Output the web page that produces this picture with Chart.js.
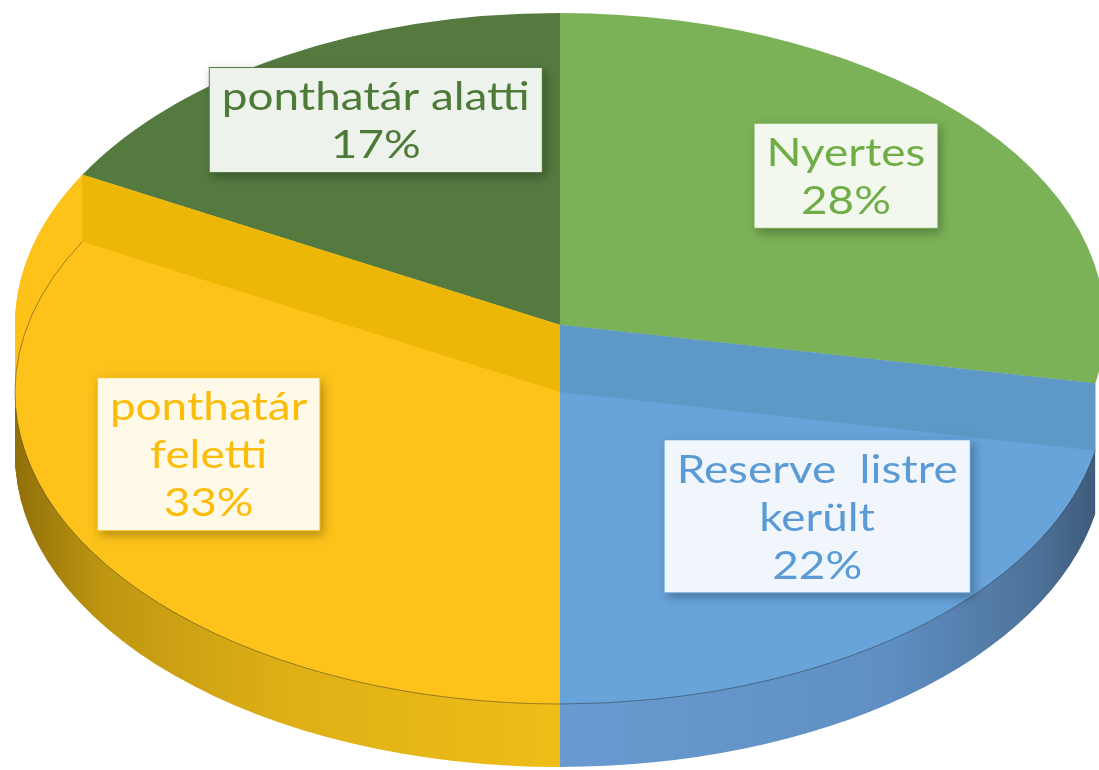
<!DOCTYPE html>
<html>
<head>
<meta charset="utf-8">
<script src="https://cdn.jsdelivr.net/npm/chart.js@4.4.1/dist/chart.umd.min.js"></script>
<style>
  html, body { margin: 0; padding: 0; background: #fff; }
  #wrap { width: 1099px; height: 770px; }
</style>
</head>
<body>
<div id="wrap"><canvas id="pie"></canvas></div>
<script>
// data
const categories = ["Nyertes", "Reserve listre került", "ponthatár feletti", "ponthatár alatti"];
const values = [28, 22, 33, 17];
// how each label is broken into lines
const labelLines = [["Nyertes"], ["Reserve  listre", "került"], ["ponthatár", "feletti"], ["ponthatár alatti"]];

// styles
const topColors = ["#7cb257", "#68a3da", "#fdc31a", "#557a3f"];
const wallColors = ["#6c9e4c", "#5d98c6", "#edb707", "#4a6c37"];
const textColors = ["#70ad47", "#5b9bd5", "#fbbd0a", "#4e7a37"];
const labelNudge = [[-8, -10], [14, -44], [-23, -49], [10, -17]];

// tilted look: the library's circle is drawn into this ellipse
const TILT = { cx: 560, rx: 545, ry: 312, yBack: 325, depth: 67 };

function toEllipse(ctx, arc, yc) {
  ctx.translate(TILT.cx, yc);
  ctx.scale(TILT.rx / arc.outerRadius, TILT.ry / arc.outerRadius);
  ctx.translate(-arc.x, -arc.y);
}

function slicePath(ctx, arc, yc) {
  ctx.save();
  toEllipse(ctx, arc, yc);
  ctx.beginPath();
  ctx.moveTo(arc.x, arc.y);
  ctx.arc(arc.x, arc.y, arc.outerRadius, arc.startAngle, arc.endAngle);
  ctx.closePath();
  ctx.restore();
}

function rimPath(ctx, arc, yc) {
  ctx.save();
  toEllipse(ctx, arc, yc);
  ctx.beginPath();
  ctx.arc(arc.x, arc.y, arc.outerRadius, arc.startAngle, arc.endAngle);
  ctx.restore();
}

function midAngle(arc) {
  return (arc.startAngle + arc.endAngle) / 2;
}

function isFront(arc) {
  const m = Math.atan2(Math.sin(midAngle(arc)), Math.cos(midAngle(arc)));
  return m > 0 && m < Math.PI;
}

const pie3d = {
  id: "pie3d",
  beforeDatasetsDraw(chart) {
    const arc = chart.getDatasetMeta(0).data[0];
    chart.ctx.save();
    toEllipse(chart.ctx, arc, TILT.yBack);
  },
  afterDatasetsDraw(chart) {
    const ctx = chart.ctx;
    ctx.restore();
    const arcs = chart.getDatasetMeta(0).data;
    const D = TILT.depth;
    const yFront = TILT.yBack + D;

    arcs.forEach((arc, i) => {
      if (!isFront(arc)) return;
      // outer side of the front slices
      const g = ctx.createLinearGradient(TILT.cx - TILT.rx, 0, TILT.cx + TILT.rx, 0);
      if (i === 2) {
        g.addColorStop(0, "#8f700a");
        g.addColorStop(0.08, "#bf9611");
        g.addColorStop(0.25, "#deb016");
        g.addColorStop(0.5, "#f0bd18");
        g.addColorStop(1, "#f0bd18");
      } else {
        g.addColorStop(0, "#6a9bd0");
        g.addColorStop(0.5, "#6a9bd0");
        g.addColorStop(0.8, "#5f8fc3");
        g.addColorStop(0.93, "#4f749c");
        g.addColorStop(1, "#3b5876");
      }
      ctx.fillStyle = g;
      for (let d = D; d <= 2 * D - 4; d++) {
        slicePath(ctx, arc, TILT.yBack + d);
        ctx.fill();
      }
      // top face, lowered
      ctx.fillStyle = topColors[i];
      for (let d = 0; d <= D; d++) {
        slicePath(ctx, arc, TILT.yBack + d);
        ctx.fill();
      }
      // radial wall towards the back slice
      const a = i === 2 ? arc.endAngle : arc.startAngle;
      const px = TILT.cx + TILT.rx * Math.cos(a);
      const py = TILT.yBack + TILT.ry * Math.sin(a);
      ctx.fillStyle = wallColors[i];
      ctx.beginPath();
      ctx.moveTo(TILT.cx, TILT.yBack);
      ctx.lineTo(px, py);
      ctx.lineTo(px, py + D);
      ctx.lineTo(TILT.cx, yFront);
      ctx.closePath();
      ctx.fill();
      // edge between top and side
      ctx.strokeStyle = "rgba(40,40,40,0.45)";
      ctx.lineWidth = 1;
      rimPath(ctx, arc, yFront);
      ctx.stroke();
    });
  },
  afterDraw(chart) {
    const ctx = chart.ctx;
    const arcs = chart.getDatasetMeta(0).data;
    const total = values.reduce((s, v) => s + v, 0);
    ctx.save();
    ctx.font = "38px Lato";
    const sx = 308 / ctx.measureText("ponthatár alatti").width;
    const lh = 48;
    arcs.forEach((arc, i) => {
      const yc = isFront(arc) ? TILT.yBack + TILT.depth : TILT.yBack;
      const m = midAngle(arc);
      const x = TILT.cx + 0.7 * TILT.rx * Math.cos(m) + labelNudge[i][0];
      const y = yc + 0.7 * TILT.ry * Math.sin(m) + labelNudge[i][1];
      const lines = labelLines[i].concat([Math.round(values[i] / total * 100) + "%"]);
      const w = Math.max(...lines.map((t) => ctx.measureText(t).width)) * sx + 26;
      const h = lines.length * lh + 10;
      ctx.save();
      ctx.shadowColor = "rgba(0,0,0,0.3)";
      ctx.shadowBlur = 10;
      ctx.shadowOffsetX = 3;
      ctx.shadowOffsetY = 4;
      ctx.fillStyle = topColors[i];
      ctx.fillRect(x - w / 2, y - h / 2, w, h);
      ctx.restore();
      ctx.fillStyle = "rgba(255,255,255,0.9)";
      ctx.fillRect(x - w / 2 + 1, y - h / 2 + 1, w - 2, h - 2);
      ctx.fillStyle = textColors[i];
      ctx.textAlign = "center";
      ctx.textBaseline = "middle";
      lines.forEach((t, k) => {
        ctx.save();
        ctx.translate(x, y + (k - (lines.length - 1) / 2) * lh);
        ctx.scale(sx, 1);
        ctx.fillText(t, 0, 2);
        ctx.restore();
      });
    });
    ctx.restore();
  }
};

new Chart(document.getElementById("pie"), {
  type: "pie",
  data: {
    labels: categories,
    datasets: [{
      data: values,
      backgroundColor: topColors,
      borderWidth: 0,
      hoverOffset: 0,
      clip: false,
    }],
  },
  options: {
    responsive: true,
    maintainAspectRatio: false,
    animation: false,
    events: [],
    plugins: {
      legend: { display: false },
      tooltip: { enabled: false },
    },
  },
  plugins: [pie3d],
});
</script>
</body>
</html>
